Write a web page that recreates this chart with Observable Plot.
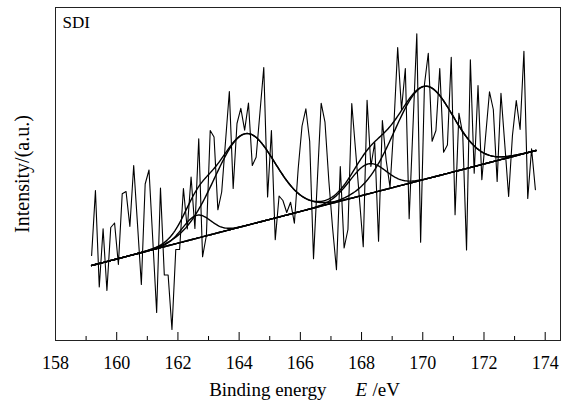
<!DOCTYPE html>
<html><head><meta charset="utf-8">
<script src="https://cdn.jsdelivr.net/npm/d3@7"></script>
<script src="https://cdn.jsdelivr.net/npm/@observablehq/plot@0.6"></script>
<style>body{margin:0;background:#fff} svg text{font-family:"Liberation Serif","Times New Roman",serif}</style>
</head><body><div id="chart"></div>
<script>
// Raw spectrum: first energy, step (eV) and intensities (a.u.)
const energyStart = 159.18;
const energyStep = 0.125;
const intensity = [
  85,150,53.5,111.7,50,113,117.5,76,146.7,149,
  114,175,116,56,156.5,170.5,100,28,152.5,65.5,
  65.5,11,91,91,152,111.5,163.5,112,201.7,83.7,
  105,210,203.5,130.7,148.5,199,249,152,217,232.2,
  210.3,237.5,175,183.3,228,273,143.5,210,100.7,144.5,
  140,128,138.3,117.3,172,214.5,231.7,199.2,81.7,160,
  237.3,218.3,160,112,70.7,174,92.5,111,237,190,
  142,93.7,240.3,174,198,99.3,220,180,153.3,215,
  293,231,272,121.7,214,306.7,98.3,256,287.2,199.2,
  210,272,188.3,195.5,283.3,125.8,227.3,206.7,90.5,280.8,
  167.3,255,160.8,205,248.7,231,159,247.3,196,144,
  205,240,211,289.3,142,191.7,150.7
];
// Linear background (end points) and Gaussian fit components
const baselineE = [159.18, 173.70];
const baselineI = [75, 190];
const peakCenters = [162.61, 164.18, 168.21, 170.03];
const peakHeights = [23, 92, 30, 93];
const peakSigmas = [0.46, 0.98, 0.59, 0.95];
const majorTicks = [158, 160, 162, 164, 166, 168, 170, 172, 174];
const minorTicks = [159, 161, 163, 165, 167, 169, 171, 173];

const spectrum = intensity.map((v, i) => ({E: energyStart + i * energyStep, I: v}));
const baseAt = e => baselineI[0] + (baselineI[1] - baselineI[0]) * (e - baselineE[0]) / (baselineE[1] - baselineE[0]);
const gauss = (k, e) => peakHeights[k] * Math.exp(-((e - peakCenters[k]) ** 2) / (2 * peakSigmas[k] ** 2));
const grid = d3.range(baselineE[0], baselineE[1] + 1e-9, 0.04);
const curves = [];
grid.forEach(e => {
  curves.push({id: "base", E: e, I: baseAt(e)});
  peakCenters.forEach((c, k) => curves.push({id: "p" + k, E: e, I: baseAt(e) + gauss(k, e)}));
  curves.push({id: "env", E: e, I: baseAt(e) + peakCenters.reduce((s, c, k) => s + gauss(k, e), 0)});
});

const font = '"Liberation Serif", "Times New Roman", serif';
const chart = Plot.plot({
  width: 561, height: 400,
  marginLeft: 55, marginRight: 1, marginTop: 7, marginBottom: 60,
  style: {fontFamily: font, fontSize: "18px", background: "#fff", color: "#000"},
  x: {domain: [158, 174.5], axis: null},
  y: {domain: [0, 333], axis: null},
  marks: [
    Plot.line(spectrum, {x: "E", y: "I", stroke: "#000", strokeWidth: 1.1}),
    Plot.line(curves, {x: "E", y: "I", z: "id", stroke: "#000", strokeWidth: 1.4}),
    Plot.axisX({ticks: majorTicks, tickSize: -8, tickPadding: 24, tickFormat: d => String(d), label: null, fontSize: 18, fontFamily: font}),
    Plot.axisX({ticks: minorTicks, tickSize: -4, text: null, label: null}),
    Plot.frame({stroke: "#222", strokeWidth: 1}),
    Plot.text(["SDI"], {frameAnchor: "top-left", dx: 7, dy: 8, fontSize: 17, textAnchor: "start", lineAnchor: "top", fontFamily: font}),
    Plot.text(["Binding energy"], {frameAnchor: "bottom", dx: 18.5, dy: 55, textAnchor: "end", lineAnchor: "bottom", fontSize: 19, fontFamily: font}),
    Plot.text(["E"], {frameAnchor: "bottom", dx: 47.5, dy: 55, textAnchor: "start", lineAnchor: "bottom", fontSize: 19, fontStyle: "italic", fontFamily: font}),
    Plot.text(["/eV"], {frameAnchor: "bottom", dx: 64.5, dy: 55, textAnchor: "start", lineAnchor: "bottom", fontSize: 19, fontFamily: font}),
    Plot.text(["Intensity/(a.u.)"], {frameAnchor: "left", dx: -33, rotate: -90, textAnchor: "middle", lineAnchor: "middle", fontSize: 20, fontFamily: font})
  ]
});
document.getElementById("chart").appendChild(chart);
</script>
</body></html>
